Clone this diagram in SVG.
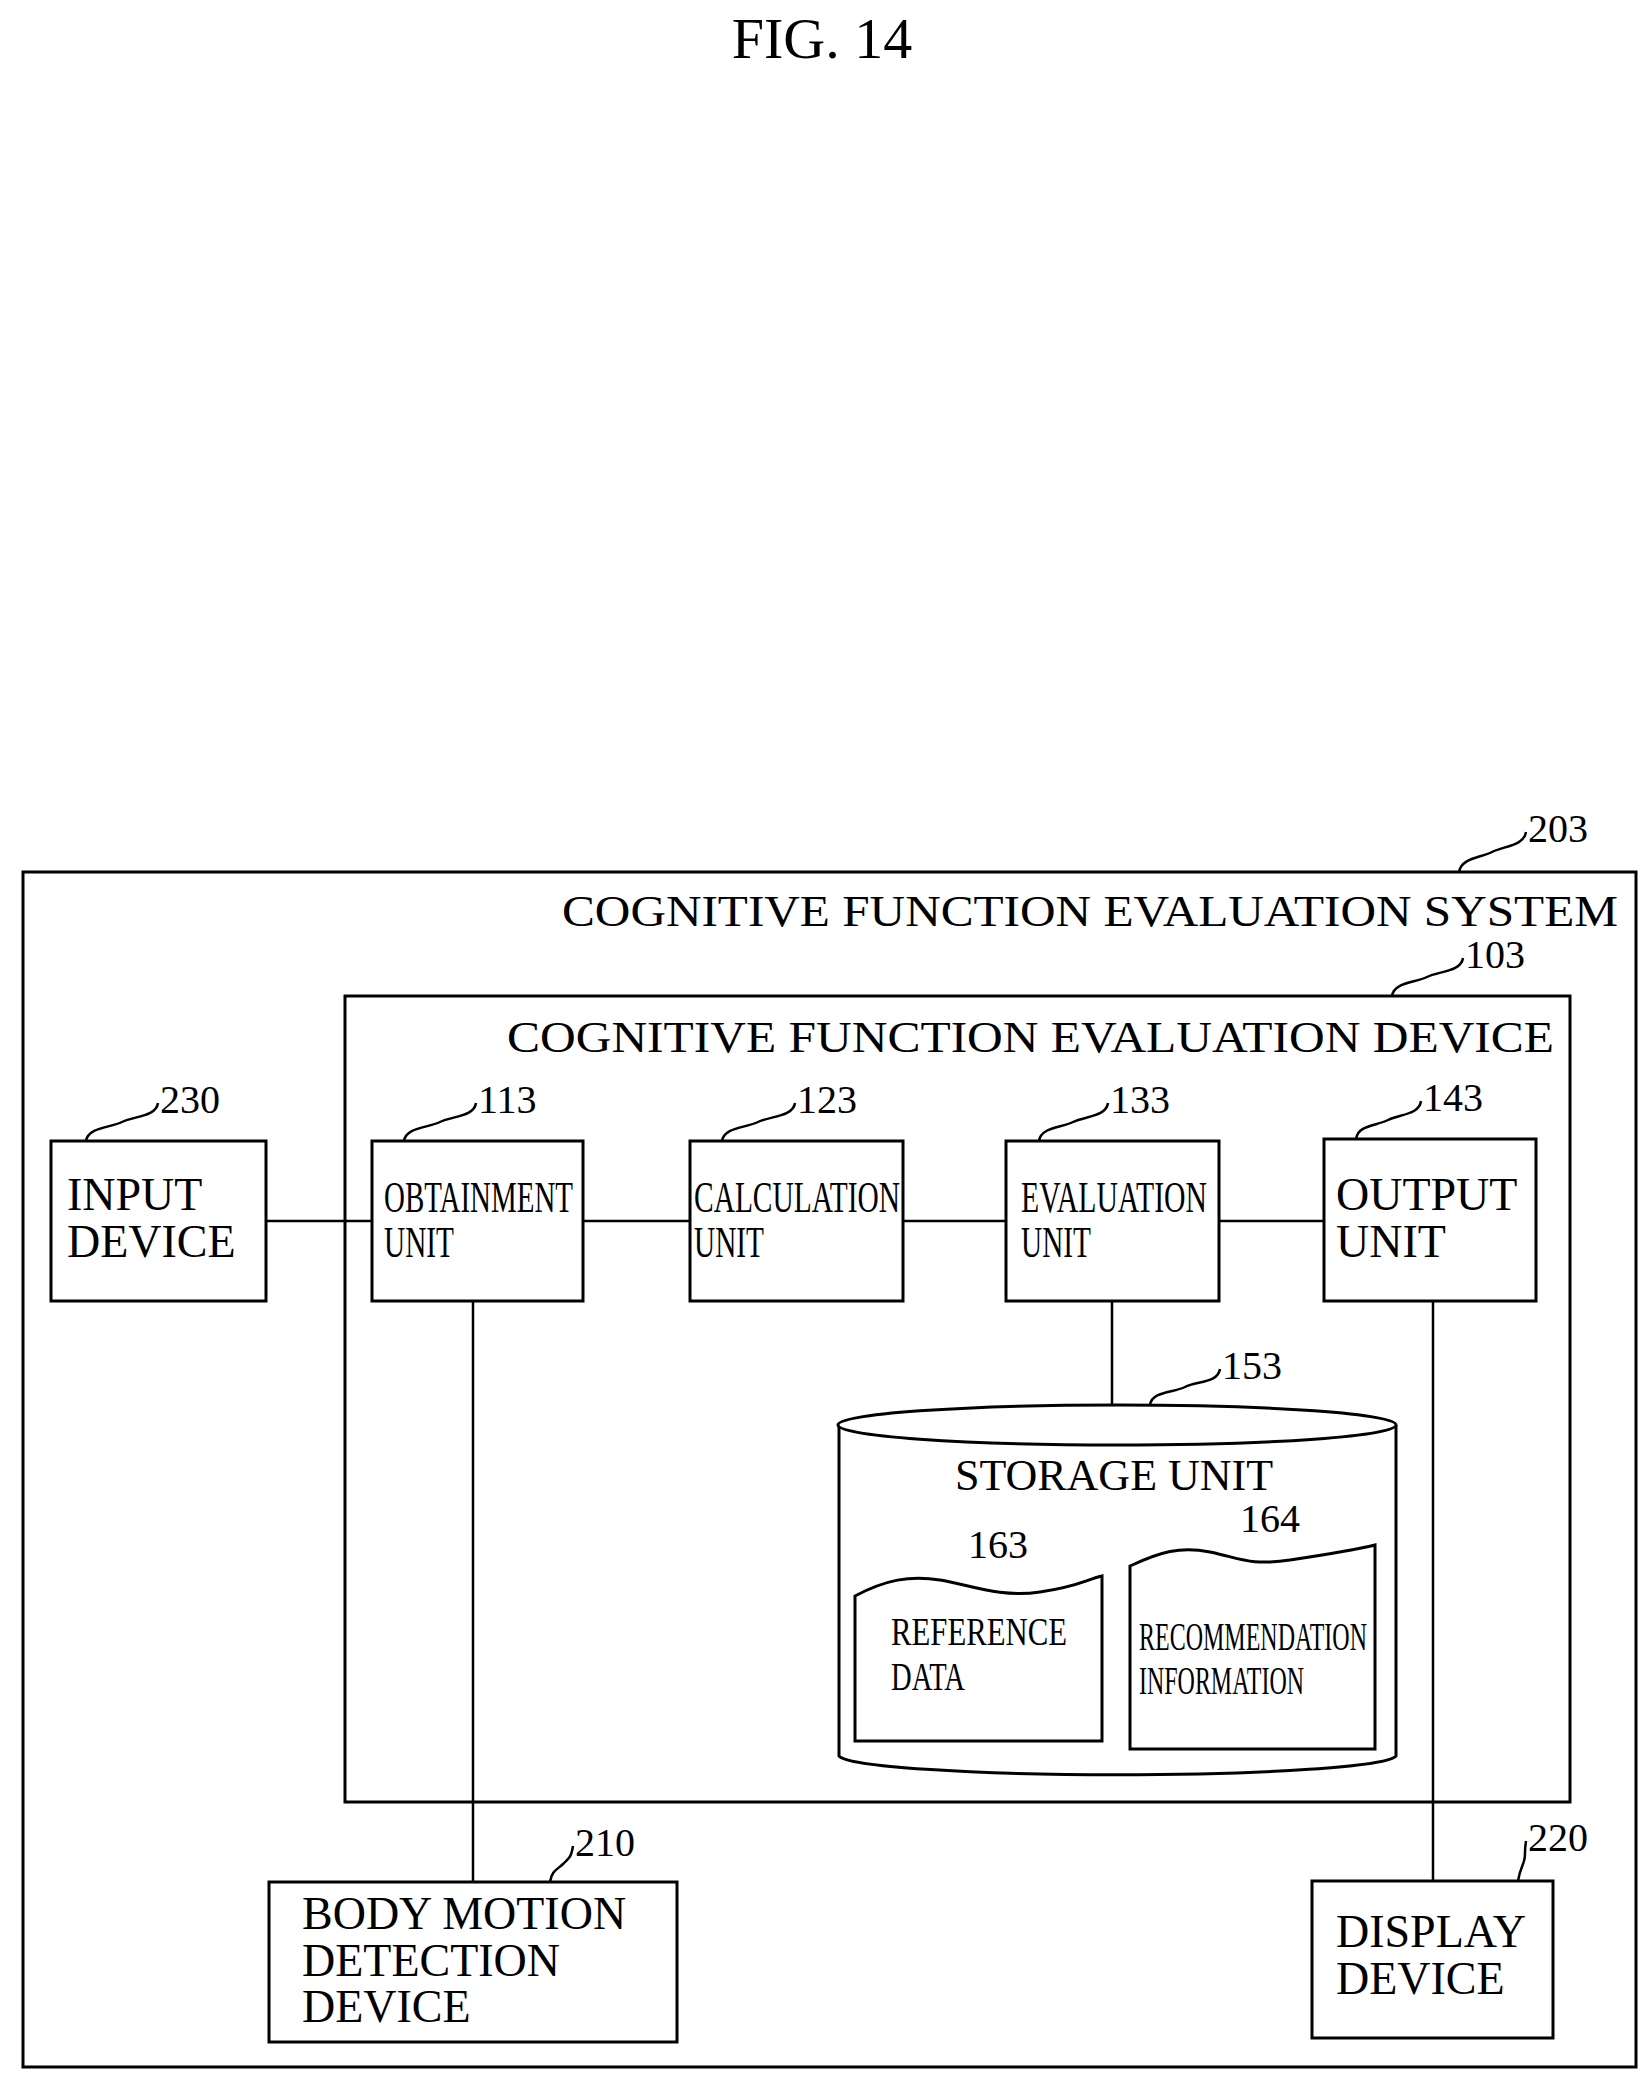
<svg xmlns="http://www.w3.org/2000/svg" width="1652" height="2088" viewBox="0 0 1652 2088">
<style>
.b{fill:#fff;stroke:#000;stroke-width:3}
.l{fill:none;stroke:#000;stroke-width:2.5}
.t{font-family:"Liberation Serif",serif;fill:#000}
.n{font-family:"Liberation Serif",serif;font-size:40px;fill:#000}
</style>
<rect width="1652" height="2088" fill="#fff"/>
<text class="t" x="822" y="58" font-size="58" text-anchor="middle">FIG. 14</text>
<g id="system"><rect class="b" x="23" y="872" width="1613" height="1195" style="fill:none"/>
<text class="t" x="1618" y="926" font-size="44" text-anchor="end" textLength="1056" lengthAdjust="spacingAndGlyphs">COGNITIVE FUNCTION EVALUATION SYSTEM</text>
<text class="n" x="1528" y="842">203</text></g>
<g id="device"><rect class="b" x="345" y="996" width="1225" height="806" style="fill:none"/>
<text class="t" x="1554" y="1052" font-size="44" text-anchor="end" textLength="1047" lengthAdjust="spacingAndGlyphs">COGNITIVE FUNCTION EVALUATION DEVICE</text>
<text class="n" x="1465" y="968">103</text></g>
<g id="connectors">
<path class="l" d="M266,1221H372M583,1221H690M903,1221H1006M1219,1221H1324M473,1301V1882M1112,1301V1405M1433,1301V1881"/>
</g>
<g id="leaders">
<path class="l" d="M86,1141C88,1127 110,1128 122,1122S156,1117 158,1103"/>
<path class="l" d="M404,1141C406,1127 428,1128 440,1122S474,1117 476,1103"/>
<path class="l" d="M722,1141C724,1127 746,1128 758,1122S793,1117 795,1103"/>
<path class="l" d="M1039,1141C1041,1127 1061,1128 1073,1122S1106,1117 1108,1103"/>
<path class="l" d="M1356,1139C1358,1125 1376,1126 1388,1120S1419,1115 1421,1101"/>
<path class="l" d="M1459,872C1461,858 1480,858 1492,852S1524,846 1526,832"/>
<path class="l" d="M1392,996C1394,982 1415,983 1427,977S1461,972 1463,958"/>
<path class="l" d="M1150,1405C1152,1391 1173,1393 1185,1387S1218,1383 1220,1369"/>
<path class="l" d="M932,1580C934,1568 943,1570 949,1564S964,1560 966,1548"/>
<path class="l" d="M1170,1556C1172,1542 1192,1545 1204,1539S1236,1536 1238,1522"/>
<path class="l" d="M550,1882C552,1870 557,1870 563,1864S571,1858 573,1846"/>
<path class="l" d="M1518,1881C1520,1869 1522,1868 1524,1861S1524,1853 1526,1841"/>
</g>
<g id="input"><rect class="b" x="51" y="1141" width="215" height="160"/>
<text class="t" x="67" y="1210" font-size="46">INPUT</text><text class="t" x="67" y="1257" font-size="46">DEVICE</text>
<text class="n" x="160" y="1113">230</text></g>
<g id="obtain"><rect class="b" x="372" y="1141" width="211" height="160"/>
<text class="t" x="384" y="1212" font-size="44" textLength="189" lengthAdjust="spacingAndGlyphs">OBTAINMENT</text><text class="t" x="384" y="1257" font-size="44" textLength="70" lengthAdjust="spacingAndGlyphs">UNIT</text>
<text class="n" x="478" y="1113">113</text></g>
<g id="calc"><rect class="b" x="690" y="1141" width="213" height="160"/>
<text class="t" x="694" y="1212" font-size="44" textLength="206" lengthAdjust="spacingAndGlyphs">CALCULATION</text><text class="t" x="694" y="1257" font-size="44" textLength="70" lengthAdjust="spacingAndGlyphs">UNIT</text>
<text class="n" x="797" y="1113">123</text></g>
<g id="eval"><rect class="b" x="1006" y="1141" width="213" height="160"/>
<text class="t" x="1021" y="1212" font-size="44" textLength="186" lengthAdjust="spacingAndGlyphs">EVALUATION</text><text class="t" x="1021" y="1257" font-size="44" textLength="70" lengthAdjust="spacingAndGlyphs">UNIT</text>
<text class="n" x="1110" y="1113">133</text></g>
<g id="output"><rect class="b" x="1324" y="1139" width="212" height="162"/>
<text class="t" x="1336" y="1210" font-size="46">OUTPUT</text><text class="t" x="1336" y="1257" font-size="46">UNIT</text>
<text class="n" x="1423" y="1111">143</text></g>
<g id="storage">
<path class="b" d="M839,1425V1756A279,20 0 0 0 1396,1756V1425"/>
<ellipse class="b" cx="1117" cy="1425" rx="279" ry="20"/>
<text class="t" x="1114" y="1490" font-size="44" text-anchor="middle">STORAGE UNIT</text>
<text class="n" x="1222" y="1379">153</text></g>
<g id="ref"><path class="b" d="M855,1596C885,1580 910,1575 940,1580S1000,1598 1040,1592S1085,1580 1102,1576V1741H855Z"/>
<text class="t" x="891" y="1645" font-size="40" textLength="176" lengthAdjust="spacingAndGlyphs">REFERENCE</text><text class="t" x="891" y="1690" font-size="40" textLength="74" lengthAdjust="spacingAndGlyphs">DATA</text>
<text class="n" x="968" y="1558">163</text></g>
<g id="rec"><path class="b" d="M1130,1566C1160,1552 1180,1546 1210,1552S1250,1566 1290,1560S1355,1550 1375,1545V1749H1130Z"/>
<text class="t" x="1139" y="1650" font-size="40" textLength="228" lengthAdjust="spacingAndGlyphs">RECOMMENDATION</text><text class="t" x="1139" y="1694" font-size="40" textLength="165" lengthAdjust="spacingAndGlyphs">INFORMATION</text>
<text class="n" x="1240" y="1532">164</text></g>
<g id="body"><rect class="b" x="269" y="1882" width="408" height="160"/>
<text class="t" x="302" y="1929" font-size="46">BODY MOTION</text><text class="t" x="302" y="1976" font-size="46">DETECTION</text><text class="t" x="302" y="2022" font-size="46">DEVICE</text>
<text class="n" x="575" y="1856">210</text></g>
<g id="display"><rect class="b" x="1312" y="1881" width="241" height="157"/>
<text class="t" x="1336" y="1947" font-size="46">DISPLAY</text><text class="t" x="1336" y="1994" font-size="46">DEVICE</text>
<text class="n" x="1528" y="1851">220</text></g>
</svg>
